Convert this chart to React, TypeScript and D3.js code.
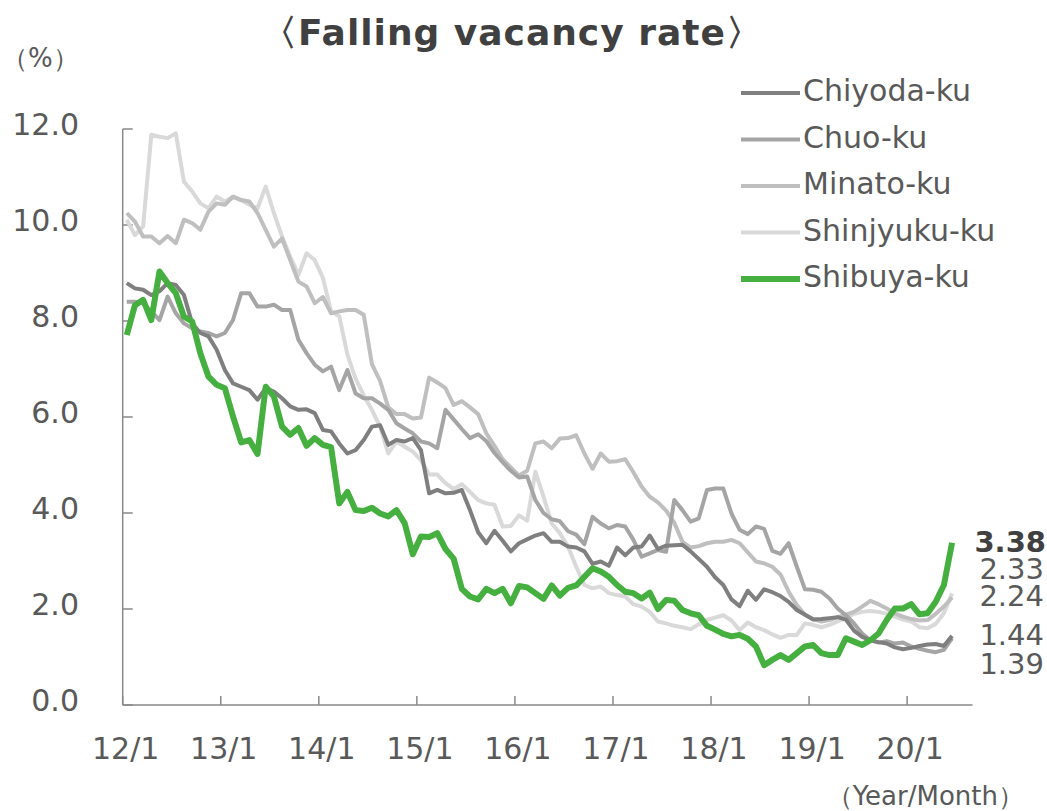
import * as d3 from 'd3';

// monthly vacancy rate (%), 12/1 .. 20/6
const chiyoda = [
  8.79, 8.68, 8.65, 8.54, 8.62, 8.79, 8.75, 8.54, 7.95, 7.75, 7.68, 7.4,
  6.98, 6.7, 6.63, 6.56, 6.36, 6.6, 6.53, 6.39, 6.22, 6.15, 6.16, 6.08,
  5.73, 5.7, 5.45, 5.24, 5.31, 5.52, 5.8, 5.83, 5.42, 5.52, 5.49, 5.56,
  5.31, 4.41, 4.48, 4.41, 4.42, 4.48, 4.06, 3.6, 3.37, 3.63, 3.42, 3.2,
  3.37, 3.45, 3.53, 3.58, 3.4, 3.4, 3.3, 3.28, 3.2, 2.94, 2.99, 2.9,
  3.28, 3.12, 3.28, 3.3, 3.53, 3.25, 3.32, 3.33, 3.34, 3.2, 3.04, 2.88,
  2.66, 2.5, 2.2, 2.06, 2.38, 2.19, 2.41, 2.35, 2.27, 2.15, 1.98, 1.88,
  1.78, 1.79, 1.81, 1.83, 1.78, 1.55, 1.42, 1.35, 1.31, 1.28, 1.2, 1.16,
  1.19, 1.23, 1.26, 1.27, 1.23, 1.44,
];
const chuo = [
  8.4, 8.4, 8.37, 8.2, 8.02, 8.51, 8.16, 7.95, 7.85, 7.78, 7.75, 7.68,
  7.75, 8.02, 8.58, 8.58, 8.3, 8.3, 8.34, 8.23, 8.23, 7.61, 7.33, 7.09,
  6.95, 7.05, 6.56, 6.98, 6.49, 6.39, 6.39, 6.28, 6.15, 5.87, 5.76, 5.66,
  5.49, 5.45, 5.35, 6.15, 5.95, 5.75, 5.56, 5.64, 5.5, 5.25, 5.06, 4.88,
  4.74, 4.76, 4.27, 4.0, 3.87, 3.83, 3.62, 3.55, 3.35, 3.92, 3.78, 3.68,
  3.75, 3.72, 3.44, 3.09, 3.16, 3.23, 3.19, 4.27, 4.06, 3.82, 3.89, 4.48,
  4.51, 4.51, 3.99, 3.65, 3.56, 3.72, 3.67, 3.21, 3.15, 3.37, 2.88, 2.41,
  2.4, 2.36, 2.22, 2.01, 1.87, 1.7, 1.49, 1.35, 1.3, 1.33, 1.28, 1.3,
  1.22, 1.17, 1.13, 1.1, 1.15, 1.39,
];
const minato = [
  10.25, 10.07, 9.76, 9.76, 9.62, 9.77, 9.62, 10.11, 10.04, 9.9, 10.28, 10.45,
  10.42, 10.59, 10.52, 10.49, 10.25, 9.9, 9.55, 9.72, 9.27, 8.82, 8.72, 8.37,
  8.5, 8.16, 8.2, 8.23, 8.23, 8.13, 7.1, 6.75, 6.2, 6.06, 6.06, 5.97,
  5.99, 6.82, 6.72, 6.6, 6.25, 6.33, 6.2, 6.06, 5.66, 5.4, 5.12, 4.95,
  4.78, 4.88, 5.45, 5.49, 5.35, 5.55, 5.56, 5.62, 5.24, 4.92, 5.24, 5.07,
  5.08, 5.12, 4.85, 4.55, 4.34, 4.22, 4.05, 3.8, 3.4, 3.28, 3.31, 3.37,
  3.4, 3.4, 3.44, 3.37, 3.18, 2.99, 2.95, 2.88, 2.72, 2.36, 2.08, 1.88,
  1.79, 1.74, 1.77, 1.83, 1.88, 1.94, 2.05, 2.17, 2.1, 2.01, 1.91, 1.84,
  1.79, 1.76, 1.77, 1.9, 2.05, 2.24,
];
const shinjyuku = [
  10.11, 9.79, 9.97, 11.88, 11.84, 11.81, 11.91, 10.9, 10.7, 10.45, 10.35, 10.59,
  10.49, 10.59, 10.52, 10.42, 10.35, 10.8, 10.25, 9.76, 9.34, 8.96, 9.41, 9.27,
  8.9, 8.2, 8.1, 7.3, 6.8, 6.45, 6.15, 5.8, 5.24, 5.49, 5.38, 5.28,
  5.1, 4.8, 4.8, 4.62, 4.5, 4.6, 4.44, 4.27, 4.2, 4.17, 3.72, 3.73,
  3.95, 3.84, 4.86, 4.34, 3.78, 3.58, 3.3, 2.88, 2.5, 2.43, 2.47, 2.33,
  2.29, 2.26, 2.1, 2.05, 1.94, 1.74, 1.7, 1.65, 1.62, 1.58, 1.68, 1.77,
  1.82, 1.87, 1.76, 1.56, 1.72, 1.62, 1.56, 1.47, 1.4, 1.46, 1.46, 1.7,
  1.67, 1.62, 1.67, 1.74, 1.81, 1.9, 1.94, 1.96, 1.94, 1.9, 1.84, 1.78,
  1.74, 1.62, 1.6, 1.69, 1.91, 2.33,
];
const shibuya = [
  7.71, 8.33, 8.44, 8.02, 9.03, 8.79, 8.58, 8.09, 7.99, 7.33, 6.84, 6.67,
  6.6, 6.01, 5.47, 5.52, 5.23, 6.63, 6.43, 5.8, 5.63, 5.77, 5.4, 5.56,
  5.42, 5.37, 4.2, 4.44, 4.06, 4.04, 4.11, 3.99, 3.93, 4.06, 3.79, 3.14,
  3.51, 3.5, 3.58, 3.25, 3.05, 2.42, 2.26, 2.2, 2.42, 2.33, 2.42, 2.12,
  2.48, 2.45, 2.33, 2.21, 2.49, 2.28, 2.44, 2.49, 2.67, 2.85, 2.78, 2.67,
  2.5, 2.36, 2.33, 2.22, 2.34, 2.0, 2.19, 2.17, 1.98, 1.91, 1.87, 1.65,
  1.57, 1.48, 1.43, 1.46, 1.38, 1.22, 0.83, 0.94, 1.04, 0.94, 1.08, 1.22,
  1.25, 1.08, 1.04, 1.04, 1.39, 1.32, 1.25, 1.35, 1.49, 1.77, 2.01, 2.01,
  2.1, 1.89, 1.91, 2.15, 2.5, 3.38,
];

const yearLabels = ['12/1', '13/1', '14/1', '15/1', '16/1', '17/1', '18/1', '19/1', '20/1'];
const yTicks = [0, 2, 4, 6, 8, 10, 12];
const endLabels = ['3.38', '2.33', '2.24', '1.44', '1.39'];

const FONT = "Verdana, 'DejaVu Sans', sans-serif";
const TEXT = '#595959';
const AXIS = '#898989';

type Series = { name: string; data: number[]; color: string; width: number };

const series: Series[] = [
  { name: 'Chiyoda-ku', data: chiyoda, color: '#7f7f7f', width: 4 },
  { name: 'Chuo-ku', data: chuo, color: '#a5a5a5', width: 4 },
  { name: 'Minato-ku', data: minato, color: '#bfbfbf', width: 4 },
  { name: 'Shinjyuku-ku', data: shinjyuku, color: '#d9d9d9', width: 4 },
  { name: 'Shibuya-ku', data: shibuya, color: '#45b03f', width: 6 },
];

export default function App() {
  const width = 1047;
  const height = 811;

  // month axis: 12/1 .. 20/9, points sit in the middle of their month
  const x = d3.scaleLinear().domain([0, 104]).range([122.7, 972.5]);
  const y = d3.scaleLinear().domain([0, 12]).range([705, 129]);

  const line = d3
    .line<number>()
    .x((_, i) => x(i + 0.5))
    .y((d) => y(d));

  // draw light lines first, green on top
  const drawOrder = [3, 2, 1, 0, 4].map((i) => series[i]);

  // end-of-line labels, stacked so they do not overlap the lines
  const endY = [542, 569, 596, 635, 664];

  return (
    <svg
      width={width}
      height={height}
      style={{ position: 'absolute', left: 0, top: 0, background: '#fff' }}
      fontFamily={FONT}
    >
      {/* title */}
      <text
        x={512}
        y={45}
        textAnchor="middle"
        fontSize={36}
        fontWeight="bold"
        letterSpacing={1}
        fill="#404040"
      >
        〈Falling vacancy rate〉
      </text>
      <text x={2} y={67} fontSize={26} fill={TEXT}>
        （%）
      </text>

      {/* y axis */}
      <line x1={x(0)} x2={x(0)} y1={y(12)} y2={y(0)} stroke={AXIS} strokeWidth={1.5} />
      {yTicks.map((t) => (
        <g key={t}>
          <line x1={x(0)} x2={x(0) + 10} y1={y(t)} y2={y(t)} stroke={AXIS} strokeWidth={1.5} />
          <text x={79} y={y(t) + 6} textAnchor="end" fontSize={30} fill={TEXT}>
            {t.toFixed(1)}
          </text>
        </g>
      ))}

      {/* x axis */}
      <line x1={x(0)} x2={x(104)} y1={y(0)} y2={y(0)} stroke={AXIS} strokeWidth={1.5} />
      {yearLabels.map((lab, k) => (
        <g key={lab}>
          <line
            x1={x(k * 12)}
            x2={x(k * 12)}
            y1={y(0)}
            y2={y(0) - 9}
            stroke={AXIS}
            strokeWidth={1.5}
          />
          <text x={x(k * 12) + 3} y={759} textAnchor="middle" fontSize={30} fill={TEXT}>
            {lab}
          </text>
        </g>
      ))}
      <text x={1024} y={805} textAnchor="end" fontSize={26} fill={TEXT}>
        （Year/Month）
      </text>

      {/* lines */}
      {drawOrder.map((s) => (
        <path
          key={s.name}
          d={line(s.data) ?? ''}
          fill="none"
          stroke={s.color}
          strokeWidth={s.width}
          strokeLinejoin="round"
        />
      ))}

      {/* end labels */}
      {endLabels.map((lab, k) => (
        <text
          key={lab}
          x={k === 0 ? 1046 : 1044}
          y={endY[k] + 10}
          textAnchor="end"
          fontSize={29}
          fontWeight={k === 0 ? 'bold' : 'normal'}
          fill={k === 0 ? '#404040' : TEXT}
        >
          {lab}
        </text>
      ))}

      {/* legend */}
      {series.map((s, k) => {
        const ly = 90 + k * 46.5;
        return (
          <g key={s.name}>
            <line x1={741} x2={800} y1={ly + 3} y2={ly + 3} stroke={s.color} strokeWidth={s.width} />
            <text x={803} y={ly + 11} fontSize={30} fill={TEXT}>
              {s.name}
            </text>
          </g>
        );
      })}
    </svg>
  );
}
